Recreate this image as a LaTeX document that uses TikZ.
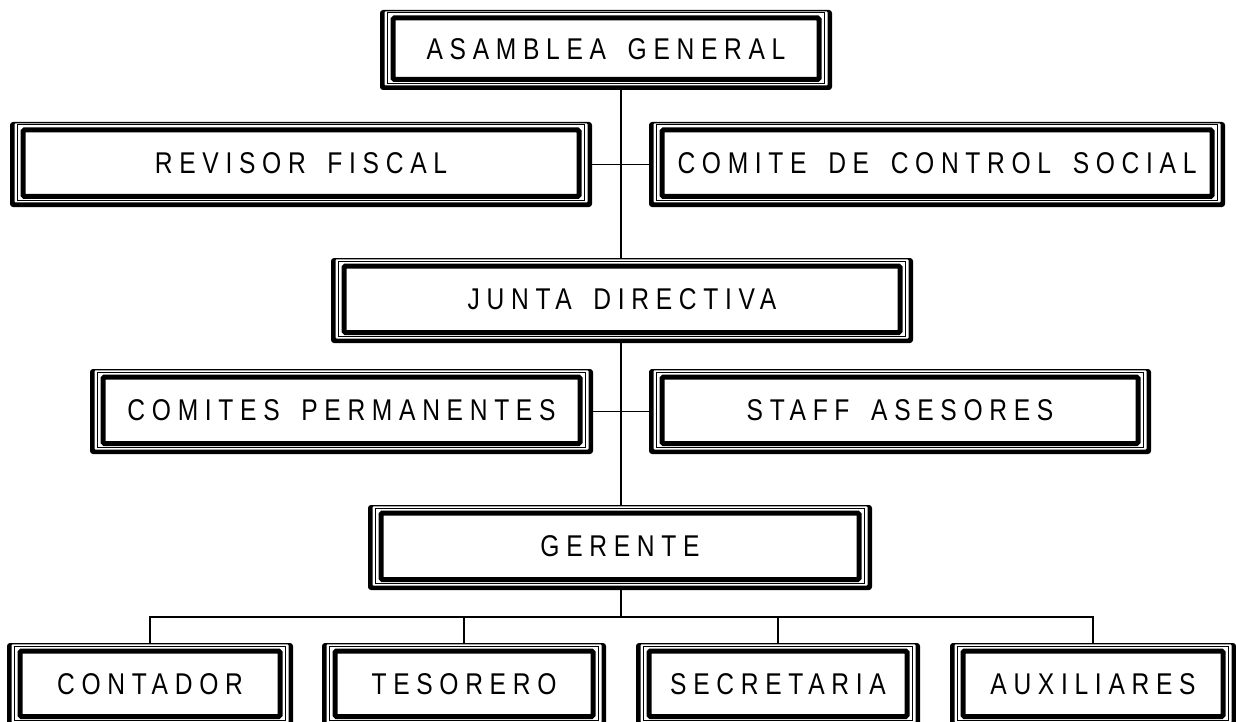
\documentclass[tikz,border=0pt]{standalone}
\usepackage{fontspec}
\setmainfont{Liberation Sans}
\newfontfamily\boxfont[LetterSpace=22.3,FakeStretch=0.82,WordSpace=1.6]{Liberation Sans}
\usetikzlibrary{fit}
\tikzset{
  conn/.style={line width=1.3pt},
  frameout/.style={fill=black, rounded corners=3pt},
  framein/.style={line width=1pt},
  framethick/.style={line width=5pt, rounded corners=1.5pt},
  boxtext/.style={font=\boxfont\fontsize{30}{32}\selectfont, inner sep=0pt, anchor=center}
}
\newcommand\obox[6]{%
  \fill[frameout] (#2,#3) rectangle (#4,#5);
  \fill[white, rounded corners=1pt] (#2+4.5,#3+1.3) rectangle (#4-4.5,#5-4.5);
  \draw[framein] (#2+7,#3+3) rectangle (#4-8,#5-6.5);
  \draw[framethick] (#2+13,#3+8) rectangle (#4-13,#5-10.5);
  \node[fit={(#2,#3)(#4,#5)}, inner sep=0pt] (#1) {};
  \node[boxtext] (#1-t) at ([yshift=1pt]#1.center) {#6};
}
\begin{document}
\begin{tikzpicture}[x=1pt,y=-1pt]
\useasboundingbox (0,0) rectangle (1236,722);
\fill[white] (0,0) rectangle (1236,722);
\obox{asam}{380}{10}{832}{90}{ASAMBLEA GENERAL}
\obox{revisor}{10}{122}{592}{207}{REVISOR FISCAL}
\obox{comite}{649}{122}{1225}{207}{COMITE DE CONTROL SOCIAL}
\obox{junta}{331}{258}{913}{343}{JUNTA DIRECTIVA}
\obox{comperm}{90}{369}{593}{454}{COMITES PERMANENTES}
\obox{staff}{649}{369}{1151}{454}{STAFF ASESORES}
\obox{gerente}{368}{505}{872}{590}{GERENTE}
\obox{contador}{7}{643}{293}{727}{CONTADOR}
\obox{tesorero}{322}{643}{606}{727}{TESORERO}
\obox{secretaria}{636}{643}{920}{727}{SECRETARIA}
\obox{auxiliares}{950}{643}{1236}{727}{AUXILIARES}
\coordinate (trunk) at (621,0);
\coordinate (bus) at (0,617);
\draw[conn] (asam.south -| trunk) -- (junta.north -| trunk);
\draw[conn] (revisor.east) -- (comite.west);
\draw[conn] (junta.south -| trunk) -- (gerente.north -| trunk);
\draw[conn] (comperm.east) -- (staff.west);
\draw[conn] (gerente.south -| trunk) -- (bus -| trunk);
\draw[conn] (contador.north) -- (contador.north |- bus) -- (auxiliares.north |- bus) -- (auxiliares.north);
\draw[conn] (tesorero.north) -- (tesorero.north |- bus);
\draw[conn] (secretaria.north) -- (secretaria.north |- bus);
\end{tikzpicture}
\end{document}
